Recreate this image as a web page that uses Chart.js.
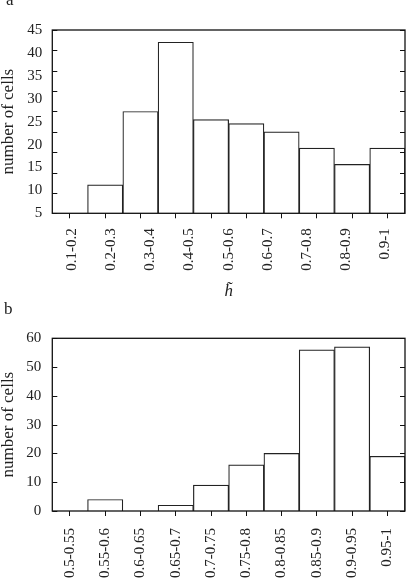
<!DOCTYPE html>
<html>
<head>
<meta charset="utf-8">
<script src="https://cdn.jsdelivr.net/npm/chart.js@4.4.1/dist/chart.umd.min.js"></script>
<style>
  body { margin: 0; background: #fff; }
  #wrap { position: relative; width: 411px; height: 587px; overflow: hidden; }
  .panel { position: absolute; left: 0; width: 411px; }
  .tag { position: absolute; font: 17px/17px "Liberation Serif", serif; color: #222; }
</style>
</head>
<body>
<div id="wrap">
  <div class="panel" style="top:0;height:300px"><canvas id="chartA" width="411" height="300"></canvas></div>
  <div class="panel" style="top:300px;height:287px"><canvas id="chartB" width="411" height="287"></canvas></div>
  <div class="tag" style="left:6px;top:-9px">a</div>
  <div class="tag" style="left:4px;top:300px">b</div>
</div>
<script>
// panel a: ten bins, nine printed labels
const binsA = ['0-0.1', '0.1-0.2', '0.2-0.3', '0.3-0.4', '0.4-0.5', '0.5-0.6', '0.6-0.7', '0.7-0.8', '0.8-0.9', '0.9-1'];
const countsA = [0, 7, 25, 42, 23, 22, 20, 16, 12, 16];
const tickLabelsA = ['0.1-0.2', '0.2-0.3', '0.3-0.4', '0.4-0.5', '0.5-0.6', '0.6-0.7', '0.7-0.8', '0.8-0.9', '0.9-1'];

// panel b
const binsB = ['0.5-0.55', '0.55-0.6', '0.6-0.65', '0.65-0.7', '0.7-0.75', '0.75-0.8', '0.8-0.85', '0.85-0.9', '0.9-0.95', '0.95-1'];
const countsB = [0, 4, 0, 2, 9, 16, 20, 56, 57, 19];

Chart.defaults.font.family = '"Liberation Serif", serif';
Chart.defaults.font.size = 15;
Chart.defaults.color = '#222';

const tickFont = { size: 15 };
const titleFont = { size: 17, lineHeight: 1 };

// frame round the plot and short inward ticks on both sides
const framePlugin = {
    id: 'frame',
    afterDatasetsDraw(chart) {
        const ctx = chart.ctx;
        const a = chart.chartArea;
        const y = chart.scales.y;
        ctx.save();
        ctx.strokeStyle = '#111';
        ctx.lineWidth = 1;
        ctx.beginPath();
        for (let t of y.ticks) {
            const py = Math.round(y.getPixelForValue(t.value)) + 0.5;
            ctx.moveTo(a.left, py);
            ctx.lineTo(a.left + 5, py);
            ctx.moveTo(a.right - 5, py);
            ctx.lineTo(a.right, py);
        }
        ctx.stroke();
        ctx.lineWidth = 1.3;
        ctx.strokeRect(a.left, a.top, a.right - a.left, a.bottom - a.top);
        ctx.restore();
    }
};

function noPad(s) {
    s.paddingLeft = 0;
    s.paddingRight = 0;
    s.paddingTop = 0;
    s.paddingBottom = 0;
}

function barSet(values) {
    return {
        data: values,
        backgroundColor: '#fff',
        borderColor: '#222',
        borderWidth: 1.2,
        barPercentage: 1,
        categoryPercentage: 1,
    };
}

const tickGrid = {
    display: true,
    drawOnChartArea: false,
    drawTicks: true,
    tickLength: 5,
    offset: false,
    color: '#111',
    lineWidth: 1,
};

new Chart(document.getElementById('chartA'), {
    type: 'bar',
    data: { labels: binsA, datasets: [barSet(countsA)] },
    options: {
        responsive: false,
        animation: false,
        layout: { padding: { top: 30, right: 6, bottom: 0, left: 0 } },
        plugins: { legend: { display: false }, tooltip: { enabled: false } },
        scales: {
            x: {
                type: 'category',
                offset: true,
                weight: 0,
                grid: tickGrid,
                border: { display: false },
                ticks: { display: false },
                afterFit: (s) => { noPad(s); s.height = 4; },
            },
            xl: {
                type: 'category',
                position: 'bottom',
                labels: tickLabelsA,
                offset: true,
                weight: 1,
                grid: { display: false, drawTicks: false, tickLength: 0 },
                border: { display: false },
                ticks: { font: tickFont, minRotation: 90, maxRotation: 90, autoSkip: false, padding: 11 },
                title: { display: true, text: 'h\u0303', font: { size: 17, style: 'italic', lineHeight: 1 }, padding: 0 },
                afterFit: (s) => { noPad(s); s.height = 82.7; },
            },
            y: {
                type: 'linear',
                position: 'left',
                min: 0,
                max: 45,
                weight: 0,
                grid: { display: false, drawTicks: false },
                border: { display: false },
                ticks: { stepSize: 5, display: false },
                afterFit: (s) => { noPad(s); s.width = 0; },
            },
            yl: {
                type: 'linear',
                position: 'left',
                min: 5,
                max: 45,
                weight: 1,
                grid: { display: false, drawTicks: false, tickLength: 0 },
                border: { display: false },
                ticks: { stepSize: 5, font: tickFont, padding: 10 },
                title: { display: true, text: 'number of cells', font: titleFont, padding: 0 },
                afterFit: (s) => { noPad(s); s.width = 52.3; },
            },
        },
    },
    plugins: [framePlugin],
});

new Chart(document.getElementById('chartB'), {
    type: 'bar',
    data: { labels: binsB, datasets: [barSet(countsB)] },
    options: {
        responsive: false,
        animation: false,
        layout: { padding: { top: 38.3, right: 6, bottom: 0, left: 0 } },
        plugins: { legend: { display: false }, tooltip: { enabled: false } },
        scales: {
            x: {
                type: 'category',
                offset: true,
                grid: tickGrid,
                border: { display: false },
                ticks: { font: tickFont, minRotation: 90, maxRotation: 90, autoSkip: false, padding: 12 },
                afterFit: (s) => { noPad(s); s.height = 76; },
            },
            y: {
                type: 'linear',
                position: 'left',
                min: 0,
                max: 60,
                grid: { display: false, drawTicks: false, tickLength: 0 },
                border: { display: false },
                ticks: { stepSize: 10, font: tickFont, padding: 11 },
                title: { display: true, text: 'number of cells', font: titleFont, padding: 0 },
                afterFit: (s) => { noPad(s); s.width = 52.3; },
            },
        },
    },
    plugins: [framePlugin],
});
</script>
</body>
</html>
